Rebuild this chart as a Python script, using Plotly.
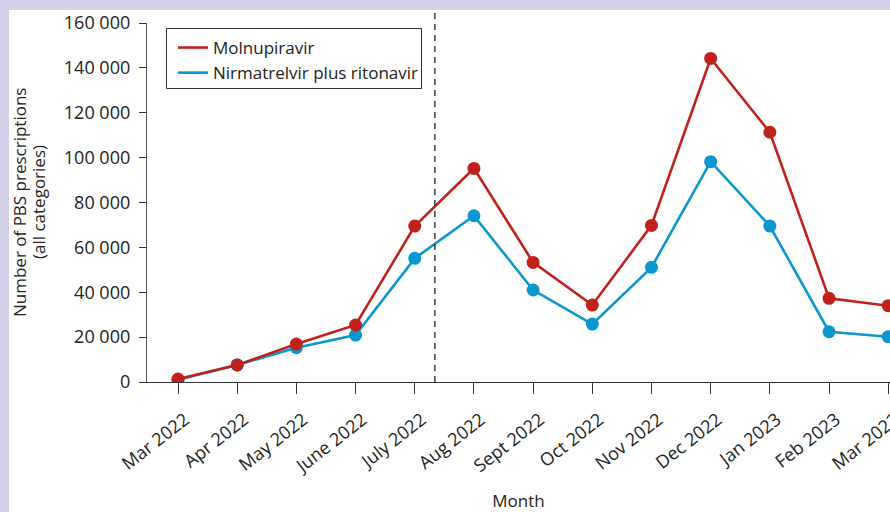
import plotly.graph_objects as go

months = ["Mar 2022", "Apr 2022", "May 2022", "June 2022", "July 2022", "Aug 2022",
          "Sept 2022", "Oct 2022", "Nov 2022", "Dec 2022", "Jan 2023", "Feb 2023", "Mar 2023"]
molnupiravir = [1300, 7600, 16900, 25400, 69500, 95200, 53300, 34300, 69800, 144200, 111300, 37300, 34000]
nirmatrelvir = [1000, 7600, 15300, 20900, 55100, 74100, 41000, 25800, 51100, 98200, 69500, 22400, 20200]
y_ticks = [0, 20000, 40000, 60000, 80000, 100000, 120000, 140000, 160000]
y_tick_text = ["0", "20 000", "40 000", "60 000", "80 000", "100 000", "120 000", "140 000", "160 000"]
y_title_lines = ["Number of PBS prescriptions", "(all categories)"]
event_position = 4.34  # eligibility change, part-way through July 2022

RED = "#c0221b"
BLUE = "#0a97d0"
FONT = "Open Sans"

x_idx = list(range(len(months)))

fig = go.Figure()
for name, vals, col in [("Nirmatrelvir plus ritonavir", nirmatrelvir, BLUE),
                        ("Molnupiravir", molnupiravir, RED)]:
    fig.add_trace(go.Scatter(x=x_idx, y=vals, mode="lines", name=name,
                             line=dict(color=col, width=2.6), showlegend=True))
    fig.add_trace(go.Scatter(x=x_idx, y=vals, mode="markers", name=name,
                             marker=dict(color=col, size=13), showlegend=False))

W, H = 890, 512
ml, mr, mt, mb = 147, 0, 23, 130
pw, ph = W - ml - mr, H - mt - mb

def px(x):
    return (x - ml) / pw

def py(y):
    return 1 - (y - mt) / ph

# lavender frame (top and left strips)
fig.add_shape(type="rect", xref="paper", yref="paper",
              x0=px(9), x1=1.01, y0=py(520), y1=py(10),
              fillcolor="white", line=dict(width=0), layer="below")

# legend frame
fig.add_shape(type="rect", xref="paper", yref="paper",
              x0=px(166.5), x1=px(421.5), y0=py(88.5), y1=py(28.5),
              fillcolor="rgba(0,0,0,0)", line=dict(color="#333", width=1))

fig.add_shape(type="line", xref="x", yref="paper", x0=event_position, x1=event_position,
              y0=0, y1=py(10), line=dict(color="#222", width=1.3, dash="6px,5px"))

# y-axis title, two lines
for line_text, xpix in zip(y_title_lines, [19.5, 38.5]):
    fig.add_annotation(text=line_text, xref="paper", yref="paper", x=px(xpix), y=0.5,
                       xanchor="center", yanchor="middle", textangle=-90, showarrow=False,
                       font=dict(family=FONT, size=17, color="#222"))

fig.update_layout(
    width=W, height=H,
    margin=dict(l=ml, r=mr, t=mt, b=mb, autoexpand=False),
    paper_bgcolor="#d4d1e6", plot_bgcolor="white",
    font=dict(family=FONT, size=17, color="#222"),
    legend=dict(x=px(173), y=py(30), xanchor="left", yanchor="top",
                bgcolor="rgba(0,0,0,0)", borderwidth=0,
                font=dict(family=FONT, size=17, color="#222"), traceorder="reversed",
                tracegroupgap=0, itemwidth=30),
    showlegend=True,
)
fig.update_xaxes(
    range=[-0.524, 12.03], tickmode="array", tickvals=x_idx, ticktext=months,
    tickangle=-38, ticks="outside", ticklen=11, tickcolor="#333", tickwidth=1.3,
    showline=True, linecolor="#333", linewidth=1.3, showgrid=False, zeroline=False,
    tickfont=dict(family=FONT, size=18, color="#222"), ticklabeloverflow="allow",
    ticklabelstandoff=8, ticklabelshift=7, automargin=False,
    title=dict(text="Month", font=dict(family=FONT, size=17, color="#222"), standoff=21),
)
fig.update_yaxes(
    range=[0, 160000], tickmode="array", tickvals=y_ticks, ticktext=y_tick_text,
    ticks="outside", ticklen=7, tickcolor="#333", tickwidth=1.3,
    showline=True, linecolor="#555", linewidth=1.3, showgrid=False, zeroline=False,
    tickfont=dict(family=FONT, size=18, color="#222"), ticklabelstandoff=5, automargin=False,
)
fig.write_html("out.html", config={"displayModeBar": False},
               post_script="document.body.style.margin='0';document.body.style.overflow='hidden';")
